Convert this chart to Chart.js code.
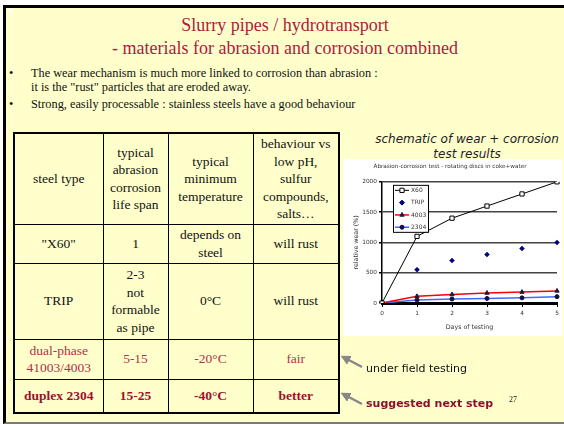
<!DOCTYPE html>
<html>
<head>
<meta charset="utf-8">
<script src="https://cdn.jsdelivr.net/npm/chart.js@4.4.0/dist/chart.umd.min.js"></script>
<style>
  body { margin: 0; width: 564px; height: 426px; overflow: hidden; background: #fff; position: relative; font-family: "Liberation Serif", serif; }
  #slide { position: absolute; left: 3px; top: 5px; width: 600px; height: 419px; background: #FFFFCC; border-left: 3px solid #000; border-top: 3px solid #000; border-bottom: 2px solid #7a7a7a; box-sizing: border-box; }
  .abs { position: absolute; white-space: nowrap; }
  .title { left: 0; width: 570px; text-align: center; color: #B0183C; font-size: 18px; line-height: 20px; font-family: "Liberation Serif", serif; }
  .bul { font-size: 12.3px; line-height: 14px; color: #111; font-family: "Liberation Serif", serif; }
  #tbl { position: absolute; left: 13px; top: 132px; border-collapse: collapse; table-layout: fixed; border: 2px solid #000; }
  #tbl td { border: 1px solid #000; text-align: center; vertical-align: middle; padding: 0;
            font-family: "Liberation Serif", serif; font-size: 13.5px; line-height: 17.5px; color: #111; }
  #tbl tr.dual td { color: #B0304A; }
  #tbl tr.dup td { color: #A0102E; font-weight: bold; }
  .chtitle { left: 360px; width: 214px; text-align: center; font-family: "DejaVu Sans", sans-serif; font-style: italic; font-size: 12px; line-height: 15px; color: #222; }
  #box { position: absolute; left: 343px; top: 159px; width: 219px; height: 177px; background: #fff; }
  .note { font-family: "DejaVu Sans", sans-serif; font-size: 11px; line-height: 14px; }
</style>
</head>
<body>
<div id="slide"></div>
<div style="position:absolute;left:8px;top:9px;width:4px;height:4px;background:#fff"></div>

<div class="abs title" style="top:15px">Slurry pipes / hydrotransport</div>
<div class="abs title" style="top:38px">- materials for abrasion and corrosion combined</div>

<div class="abs bul" style="left:9px;top:66px">•</div>
<div class="abs bul" style="left:31px;top:66px">The wear mechanism is much more linked to corrosion than abrasion :</div>
<div class="abs bul" style="left:31px;top:80px">it is the "rust" particles that are eroded away.</div>
<div class="abs bul" style="left:9px;top:97px">•</div>
<div class="abs bul" style="left:31px;top:97px">Strong, easily processable : stainless steels have a good behaviour</div>

<table id="tbl">
  <colgroup><col style="width:89px"><col style="width:65px"><col style="width:85px"><col style="width:86px"></colgroup>
  <tr style="height:91px"><td>steel type</td><td>typical<br>abrasion<br>corrosion<br>life span</td><td>typical<br>minimum<br>temperature</td><td>behaviour vs<br>low pH,<br>sulfur<br>compounds,<br>salts…</td></tr>
  <tr style="height:39px"><td>"X60"</td><td>1</td><td>depends on<br>steel</td><td>will rust</td></tr>
  <tr style="height:76px"><td>TRIP</td><td>2-3<br>not<br>formable<br>as pipe</td><td>0°C</td><td>will rust</td></tr>
  <tr class="dual" style="height:40px"><td>dual-phase<br>41003/4003</td><td>5-15</td><td>-20°C</td><td>fair</td></tr>
  <tr class="dup" style="height:34px"><td>duplex 2304</td><td>15-25</td><td>-40°C</td><td>better</td></tr>
</table>

<div class="abs chtitle" style="top:132px">schematic of wear + corrosion</div>
<div class="abs chtitle" style="top:147px">test results</div>

<div id="box"><canvas id="wear"></canvas></div>

<svg class="abs" style="left:0;top:0" width="564" height="426">
  <defs>
    <marker id="head" markerWidth="4" markerHeight="4" refX="2" refY="2" orient="auto">
      <path d="M0,0 L4,2 L0,4 z" fill="#888"/>
    </marker>
  </defs>
  <line x1="362" y1="367" x2="345" y2="358" stroke="#888" stroke-width="2.5" marker-end="url(#head)"/>
  <line x1="362" y1="404" x2="345" y2="395" stroke="#888" stroke-width="2.5" marker-end="url(#head)"/>
</svg>
<div class="abs note" style="left:366px;top:362px;color:#111">under field testing</div>
<div class="abs note" style="left:366px;top:397px;color:#8B0F2E;font-weight:bold">suggested next step</div>
<div class="abs" style="left:509px;top:395px;font-size:8px;color:#111">27</div>

<script>
// wear test readings, days 0..5
const days = ['0', '1', '2', '3', '4', '5'];
const wearX60 = [0, 1100, 1400, 1600, 1800, 2000];
const wearTRIP = [0, 550, 700, 800, 900, 1000];
const wear4003 = [0, 110, 140, 165, 180, 200];
const wear2304 = [0, 50, 65, 75, 85, 105];
const seriesNames = ['X60', 'TRIP', '4003', '2304'];

const smallFont = { family: 'DejaVu Sans', size: 5.8 };

// legend box drawn inside the plot, like the excel one
const legendBox = {
  id: 'legendBox',
  afterDatasetsDraw(chart) {
    const ctx = chart.ctx;
    const left = chart.chartArea.left + 11;
    const top = chart.chartArea.top + 3;
    ctx.save();
    ctx.fillStyle = '#fff';
    ctx.fillRect(left, top, 35, 47);
    ctx.strokeStyle = '#000';
    ctx.lineWidth = 1;
    ctx.strokeRect(left + 0.5, top + 0.5, 35, 47);
    chart.data.datasets.forEach((ds, i) => {
      const y = top + 5.5 + i * 12.3;
      if (ds.showLine !== false) {
        ctx.strokeStyle = ds.borderColor;
        ctx.lineWidth = ds.borderWidth;
        ctx.beginPath();
        ctx.moveTo(left + 2, y);
        ctx.lineTo(left + 16, y);
        ctx.stroke();
      }
      ctx.fillStyle = ds.pointBackgroundColor;
      ctx.strokeStyle = ds.pointBorderColor;
      ctx.lineWidth = 1;
      Chart.helpers.drawPoint(ctx, { pointStyle: ds.pointStyle, radius: ds.pointRadius, rotation: 0, borderWidth: 1 }, left + 9, y);
      ctx.fillStyle = '#333';
      ctx.font = '6px "DejaVu Sans"';
      ctx.textBaseline = 'middle';
      ctx.fillText(ds.label, left + 18, y);
    });
    ctx.restore();
  }
};

new Chart(document.getElementById('wear'), {
  type: 'line',
  data: {
    labels: days,
    datasets: [
      { label: seriesNames[0], data: wearX60, borderColor: '#000', borderWidth: 1, pointStyle: 'rect', pointRadius: 3,
        pointBackgroundColor: '#fff', pointBorderColor: '#000', pointBorderWidth: 1 },
      { label: seriesNames[1], data: wearTRIP, showLine: false, borderColor: '#000080', borderWidth: 1, pointStyle: 'rectRot', pointRadius: 2.5,
        pointBackgroundColor: '#000080', pointBorderColor: '#000080', pointBorderWidth: 0.5 },
      { label: seriesNames[2], data: wear4003, borderColor: '#ff0000', borderWidth: 1.5, pointStyle: 'triangle', pointRadius: 2.5,
        pointBackgroundColor: '#1a1a40', pointBorderColor: '#1a1a40', pointBorderWidth: 1 },
      { label: seriesNames[3], data: wear2304, borderColor: '#3d6cff', borderWidth: 1.5, pointStyle: 'circle', pointRadius: 2,
        pointBackgroundColor: '#101040', pointBorderColor: '#101040', pointBorderWidth: 1 }
    ]
  },
  options: {
    responsive: true,
    maintainAspectRatio: false,
    animation: false,
    layout: { padding: { top: 0, right: 5, left: 0, bottom: 0 } },
    elements: { line: { tension: 0 } },
    plugins: {
      legend: { display: false },
      tooltip: { enabled: false },
      title: {
        display: true,
        text: 'Abrasion-corrosion test - rotating discs in coke+water',
        color: '#333',
        font: { family: 'DejaVu Sans', size: 5.7, weight: 'normal' },
        padding: { top: 4, bottom: 12 }
      }
    },
    scales: {
      x: {
        offset: false,
        grid: { display: true, drawOnChartArea: false, drawTicks: true, tickLength: 4, color: '#000' },
        border: { color: '#000', width: 3 },
        ticks: { font: smallFont, color: '#333', padding: 3, maxRotation: 0 },
        title: { display: true, text: 'Days of testing', font: { family: 'DejaVu Sans', size: 6.3 }, color: '#333', padding: { top: 0, bottom: 5 } },
        afterFit: s => { s.height = 33; }
      },
      y: {
        min: 0,
        max: 2000,
        ticks: { stepSize: 500, padding: 2, font: smallFont, color: '#333', callback: v => String(v) },
        grid: {
          color: ctx => (ctx.tick && ctx.tick.value === 0 ? 'rgba(0,0,0,0)' : '#444'),
          lineWidth: 1.5,
          tickLength: 3,
          tickColor: '#000'
        },
        border: { color: '#000', width: 1.5 },
        title: { display: true, text: 'relative wear (%)', font: { family: 'DejaVu Sans', size: 6.3 }, color: '#333', padding: { top: 10, bottom: 0 } },
        afterFit: s => { s.width = 39; }
      }
    }
  },
  plugins: [legendBox]
});
</script>
</body>
</html>
